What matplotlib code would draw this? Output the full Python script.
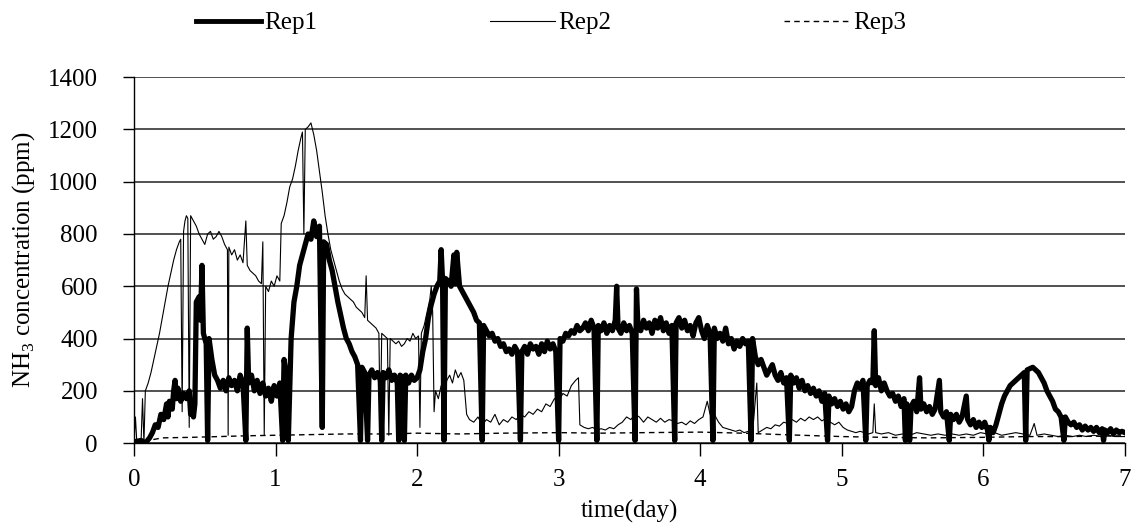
import numpy as np
import matplotlib
matplotlib.use('Agg')
import matplotlib.pyplot as plt
from matplotlib.lines import Line2D

plt.rcParams['font.family'] = ['Liberation Serif', 'DejaVu Serif']
plt.rcParams['mathtext.fontset'] = 'custom'
plt.rcParams['mathtext.rm'] = 'Liberation Serif'

## Rep1 (day, ppm)
rep1 = [
    (0.00, 5), (0.05, 10), (0.08, 0), (0.11, 20), (0.13, 40), (0.15, 70), (0.17, 60), (0.19, 110),
    (0.21, 90), (0.23, 150), (0.24, 100), (0.25, 160), (0.27, 130), (0.28, 200), (0.29, 240),
    (0.30, 170), (0.31, 210), (0.33, 160), (0.35, 190), (0.37, 170), (0.39, 200), (0.40, 110),
    (0.41, 140), (0.42, 100), (0.43, 150), (0.44, 540), (0.46, 560), (0.47, 470), (0.48, 680),
    (0.49, 420), (0.51, 380), (0.52, 10), (0.53, 400), (0.55, 320), (0.57, 260), (0.59, 240),
    (0.61, 210), (0.63, 240), (0.65, 200), (0.67, 250), (0.69, 220), (0.71, 240), (0.73, 200),
    (0.75, 260), (0.77, 230), (0.79, 10), (0.80, 440), (0.81, 230), (0.83, 260), (0.85, 200),
    (0.87, 240), (0.89, 190), (0.91, 230), (0.93, 180), (0.95, 210), (0.97, 160), (0.99, 220),
    (1.01, 180), (1.03, 230), (1.05, 10), (1.06, 320), (1.08, 250), (1.09, 10), (1.11, 400),
    (1.13, 540), (1.15, 600), (1.17, 680), (1.19, 720), (1.21, 760), (1.23, 800), (1.25, 780),
    (1.27, 850), (1.29, 790), (1.31, 830), (1.33, 60), (1.34, 770), (1.36, 760), (1.38, 700),
    (1.40, 660), (1.42, 600), (1.44, 540), (1.46, 490), (1.48, 440), (1.50, 400), (1.52, 380),
    (1.54, 350), (1.56, 330), (1.58, 300), (1.60, 10), (1.61, 290), (1.63, 270), (1.65, 10),
    (1.66, 260), (1.68, 280), (1.70, 250), (1.72, 270), (1.74, 240), (1.75, 10), (1.76, 270),
    (1.78, 250), (1.80, 280), (1.82, 240), (1.84, 260), (1.86, 230), (1.87, 10), (1.88, 260),
    (1.90, 250), (1.91, 10), (1.92, 260), (1.94, 230), (1.96, 260), (1.98, 240), (2.00, 250),
    (2.02, 280), (2.04, 350), (2.06, 400), (2.08, 480), (2.10, 530), (2.12, 570), (2.14, 600),
    (2.16, 620), (2.17, 740), (2.18, 620), (2.19, 10), (2.20, 630), (2.22, 620), (2.24, 600),
    (2.26, 720), (2.27, 610), (2.28, 730), (2.30, 600), (2.32, 580), (2.34, 560), (2.36, 540),
    (2.38, 520), (2.40, 500), (2.42, 470), (2.44, 460), (2.46, 10), (2.47, 450), (2.49, 430),
    (2.51, 410), (2.53, 420), (2.55, 390), (2.57, 400), (2.59, 370), (2.61, 380), (2.63, 350),
    (2.65, 360), (2.67, 340), (2.69, 370), (2.71, 350), (2.73, 10), (2.74, 350), (2.76, 370),
    (2.78, 340), (2.80, 380), (2.82, 360), (2.84, 370), (2.86, 340), (2.88, 380), (2.90, 350),
    (2.92, 390), (2.94, 360), (2.96, 380), (2.98, 350), (3.00, 10), (3.01, 400), (3.03, 390),
    (3.05, 420), (3.07, 410), (3.09, 430), (3.11, 420), (3.13, 450), (3.15, 430), (3.17, 440),
    (3.19, 460), (3.21, 430), (3.23, 470), (3.25, 440), (3.27, 10), (3.28, 450), (3.30, 430),
    (3.32, 460), (3.34, 420), (3.36, 450), (3.38, 430), (3.40, 470), (3.41, 600), (3.42, 440),
    (3.44, 420), (3.46, 460), (3.48, 430), (3.50, 450), (3.52, 420), (3.54, 10), (3.55, 590),
    (3.56, 450), (3.58, 430), (3.60, 470), (3.62, 440), (3.64, 460), (3.66, 420), (3.68, 470),
    (3.70, 440), (3.72, 480), (3.74, 430), (3.76, 460), (3.78, 420), (3.80, 450), (3.82, 10),
    (3.83, 460), (3.85, 480), (3.87, 440), (3.89, 470), (3.91, 430), (3.93, 450), (3.95, 410),
    (3.97, 460), (3.99, 480), (4.01, 430), (4.03, 400), (4.05, 450), (4.07, 420), (4.09, 10),
    (4.10, 440), (4.12, 400), (4.14, 420), (4.16, 390), (4.18, 440), (4.20, 380), (4.22, 400),
    (4.24, 360), (4.26, 390), (4.28, 370), (4.30, 400), (4.32, 380), (4.34, 390), (4.36, 10),
    (4.37, 400), (4.39, 330), (4.41, 300), (4.43, 320), (4.45, 290), (4.47, 260), (4.49, 280),
    (4.51, 300), (4.53, 260), (4.55, 240), (4.57, 270), (4.59, 230), (4.61, 250), (4.63, 10),
    (4.64, 260), (4.66, 230), (4.68, 250), (4.70, 210), (4.72, 240), (4.74, 200), (4.76, 220),
    (4.78, 190), (4.80, 210), (4.82, 180), (4.84, 200), (4.86, 160), (4.88, 190), (4.90, 10),
    (4.91, 180), (4.93, 150), (4.95, 170), (4.97, 140), (4.99, 160), (5.01, 130), (5.03, 150),
    (5.05, 120), (5.07, 140), (5.09, 200), (5.11, 230), (5.13, 210), (5.15, 240), (5.17, 10),
    (5.18, 220), (5.20, 240), (5.22, 230), (5.23, 430), (5.24, 220), (5.26, 250), (5.28, 200),
    (5.30, 230), (5.32, 200), (5.34, 180), (5.36, 190), (5.38, 160), (5.40, 180), (5.42, 140),
    (5.44, 170), (5.45, 10), (5.46, 150), (5.48, 10), (5.49, 140), (5.51, 160), (5.53, 120),
    (5.55, 250), (5.56, 130), (5.58, 150), (5.60, 120), (5.62, 140), (5.64, 110), (5.66, 130),
    (5.69, 240), (5.70, 120), (5.72, 100), (5.74, 120), (5.76, 10), (5.77, 110), (5.79, 90),
    (5.81, 110), (5.83, 80), (5.85, 100), (5.88, 180), (5.89, 90), (5.91, 70), (5.93, 90),
    (5.95, 60), (5.97, 80), (5.99, 60), (6.01, 80), (6.03, 50), (6.04, 10), (6.05, 60),
    (6.07, 40), (6.09, 70), (6.11, 110), (6.13, 150), (6.15, 180), (6.17, 200), (6.19, 220),
    (6.21, 230), (6.23, 240), (6.25, 250), (6.27, 260), (6.29, 270), (6.30, 10), (6.31, 280),
    (6.33, 285), (6.35, 290), (6.37, 280), (6.39, 270), (6.41, 250), (6.43, 230), (6.45, 200),
    (6.47, 180), (6.49, 160), (6.51, 130), (6.53, 120), (6.55, 100), (6.57, 10), (6.58, 100),
    (6.60, 80), (6.62, 70), (6.64, 80), (6.66, 60), (6.68, 70), (6.70, 50), (6.72, 65),
    (6.74, 50), (6.76, 60), (6.78, 45), (6.80, 60), (6.82, 40), (6.84, 55), (6.85, 10),
    (6.86, 50), (6.88, 40), (6.90, 55), (6.92, 35), (6.94, 50), (6.96, 40), (6.98, 45), (7.00, 40),
]

## Rep2
rep2 = [
    (0.00, 0), (0.01, 100), (0.02, 0), (0.05, 10), (0.06, 170), (0.07, 0), (0.08, 200),
    (0.10, 230), (0.12, 270), (0.14, 320), (0.16, 370), (0.18, 420), (0.20, 480), (0.22, 540),
    (0.24, 600), (0.26, 650), (0.28, 700), (0.30, 740), (0.32, 770), (0.33, 780), (0.34, 120),
    (0.35, 810), (0.36, 850), (0.37, 870), (0.38, 860), (0.39, 60), (0.40, 870), (0.42, 850),
    (0.44, 830), (0.46, 800), (0.48, 780), (0.50, 760), (0.52, 800), (0.54, 810), (0.56, 780),
    (0.58, 790), (0.60, 810), (0.62, 790), (0.64, 760), (0.66, 740), (0.665, 30), (0.67, 750),
    (0.69, 720), (0.71, 740), (0.73, 700), (0.75, 720), (0.77, 690), (0.79, 850), (0.80, 680),
    (0.82, 660), (0.84, 650), (0.86, 640), (0.88, 620), (0.90, 610), (0.91, 770), (0.92, 30),
    (0.93, 600), (0.95, 580), (0.97, 620), (0.99, 600), (1.01, 640), (1.03, 620), (1.04, 840),
    (1.06, 870), (1.08, 920), (1.10, 980), (1.12, 1010), (1.14, 1060), (1.16, 1120),
    (1.18, 1170), (1.19, 1190), (1.20, 800), (1.21, 1200), (1.23, 1210), (1.25, 1225),
    (1.27, 1180), (1.29, 1120), (1.31, 1040), (1.33, 960), (1.35, 870), (1.37, 800),
    (1.39, 740), (1.41, 700), (1.43, 660), (1.45, 620), (1.47, 590), (1.49, 570), (1.51, 560),
    (1.53, 550), (1.55, 540), (1.57, 520), (1.59, 510), (1.61, 500), (1.63, 480), (1.64, 640),
    (1.65, 470), (1.67, 460), (1.69, 450), (1.71, 440), (1.73, 420), (1.74, 30), (1.75, 420),
    (1.77, 410), (1.79, 400), (1.80, 30), (1.81, 400), (1.83, 390), (1.85, 380), (1.87, 390),
    (1.89, 370), (1.91, 380), (1.93, 400), (1.95, 390), (1.97, 420), (1.99, 400), (2.01, 410),
    (2.02, 60), (2.03, 420), (2.05, 450), (2.07, 500), (2.09, 550), (2.10, 600), (2.11, 500),
    (2.12, 120), (2.13, 200), (2.15, 170), (2.17, 220), (2.19, 190), (2.21, 240), (2.23, 260),
    (2.25, 230), (2.27, 280), (2.29, 250), (2.31, 270), (2.33, 240), (2.35, 110), (2.37, 90),
    (2.40, 80), (2.43, 100), (2.46, 70), (2.49, 90), (2.52, 80), (2.55, 110), (2.58, 70),
    (2.61, 90), (2.64, 80), (2.67, 100), (2.70, 90), (2.73, 110), (2.76, 100), (2.79, 120),
    (2.82, 110), (2.85, 130), (2.88, 120), (2.91, 150), (2.94, 140), (2.97, 170), (3.00, 160),
    (3.03, 190), (3.06, 180), (3.09, 220), (3.12, 240), (3.14, 250), (3.15, 70), (3.18, 60),
    (3.21, 55), (3.24, 60), (3.27, 50), (3.30, 55), (3.33, 50), (3.36, 60), (3.39, 55),
    (3.42, 70), (3.45, 80), (3.48, 100), (3.51, 90), (3.54, 110), (3.57, 100), (3.60, 80),
    (3.63, 100), (3.66, 90), (3.69, 80), (3.72, 95), (3.75, 80), (3.78, 90), (3.81, 85),
    (3.84, 75), (3.87, 80), (3.90, 70), (3.93, 85), (3.96, 75), (3.99, 90), (4.02, 100),
    (4.05, 160), (4.07, 110), (4.09, 130), (4.11, 100), (4.13, 80), (4.16, 60), (4.19, 55),
    (4.22, 50), (4.25, 45), (4.28, 50), (4.31, 40), (4.34, 45), (4.37, 40), (4.40, 230),
    (4.41, 40), (4.44, 50), (4.47, 60), (4.50, 55), (4.53, 70), (4.56, 65), (4.59, 80),
    (4.62, 75), (4.65, 90), (4.68, 80), (4.71, 95), (4.74, 85), (4.77, 100), (4.80, 90),
    (4.83, 100), (4.86, 85), (4.89, 95), (4.92, 80), (4.95, 70), (4.98, 80), (5.01, 60),
    (5.04, 50), (5.07, 45), (5.10, 40), (5.13, 45), (5.16, 40), (5.19, 35), (5.22, 40),
    (5.23, 150), (5.24, 40), (5.28, 35), (5.33, 40), (5.38, 30), (5.43, 35), (5.48, 30),
    (5.53, 40), (5.58, 35), (5.63, 30), (5.68, 35), (5.73, 30), (5.78, 35), (5.83, 30),
    (5.88, 35), (5.93, 30), (5.98, 40), (6.03, 35), (6.08, 40), (6.13, 30), (6.18, 35),
    (6.23, 40), (6.28, 35), (6.33, 30), (6.36, 75), (6.38, 30), (6.43, 35), (6.48, 30),
    (6.53, 25), (6.58, 30), (6.63, 25), (6.68, 30), (6.73, 25), (6.78, 30), (6.83, 25),
    (6.88, 30), (6.93, 25), (7.00, 25),
]

## Rep3
rep3 = [
    (0.00, 5), (0.10, 10), (0.20, 20), (0.40, 22), (0.60, 25), (0.80, 28), (1.00, 30),
    (1.20, 32), (1.50, 35), (1.80, 35), (2.00, 38), (2.30, 35), (2.60, 38), (3.00, 40),
    (3.30, 38), (3.60, 40), (4.00, 42), (4.30, 38), (4.60, 32), (5.00, 25), (5.30, 22),
    (5.60, 20), (6.00, 22), (6.30, 25), (6.60, 25), (7.00, 28),
]

labels = ['Rep1', 'Rep2', 'Rep3']

fig = plt.figure(figsize=(11.31, 5.25), dpi=100)
ax = fig.add_axes([0.1185, 0.156, 0.876, 0.697])

t1, y1 = zip(*rep1)
t2, y2 = zip(*rep2)
t3, y3 = zip(*rep3)
ax.plot(t3, y3, color='black', lw=1.0, ls=(0, (4, 3)), zorder=3)
ax.plot(t2, y2, color='black', lw=0.8, zorder=4)
ax.plot(t1, y1, color='black', lw=3.8, zorder=5)

ax.set_xlim(0, 7)
ax.set_ylim(0, 1400)
ax.set_xticks(range(0, 8))
ax.set_yticks(range(0, 1401, 200))
ax.yaxis.grid(True, color='#333333', lw=1.2)
ax.set_axisbelow(True)
for s in ['top', 'right']:
    ax.spines[s].set_visible(False)
ax.spines['left'].set_linewidth(1.0)
ax.spines['bottom'].set_linewidth(1.0)
ax.tick_params(axis='y', direction='out', length=8, width=1, labelsize=18, pad=18)
ax.tick_params(axis='x', direction='out', length=9, width=1, labelsize=18, pad=10)
ax.set_xlabel('time(day)', fontsize=18, labelpad=6)
ax.set_ylabel(r'NH$_\mathrm{3}$ concentration (ppm)', fontsize=18, labelpad=8)

handles = [Line2D([], [], color='black', lw=3.5),
           Line2D([], [], color='black', lw=0.8),
           Line2D([], [], color='black', lw=1.0, ls=(0, (4, 3)))]
fig.legend(handles, labels, loc='upper center', bbox_to_anchor=(0.487, 1.02), ncol=3,
           frameon=False, fontsize=18, handlelength=2.6, handletextpad=0.15,
           columnspacing=6.9)

plt.savefig('out.png', dpi=100)
